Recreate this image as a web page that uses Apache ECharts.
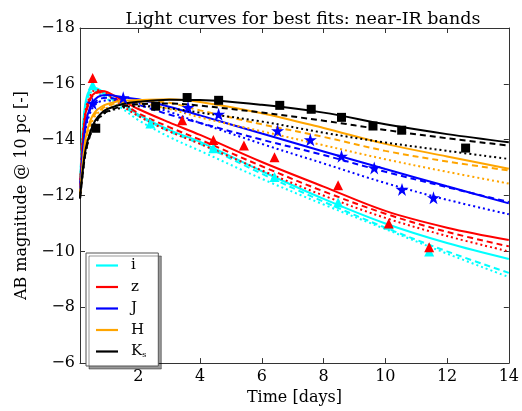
<!DOCTYPE html>
<html><head><meta charset="utf-8">
<script src="https://cdn.jsdelivr.net/npm/echarts@6/dist/echarts.min.js"></script>
<style>html,body{margin:0;padding:0;background:#fff}#c{width:522px;height:411px}</style>
</head><body><div id="c"></div>
<script>
// Model time grid (days)
const T = [0.11, 0.2, 0.3, 0.45, 0.6, 0.8, 1.0, 1.5, 2, 3, 4, 6, 8, 10, 12, 14];
// Fitted model curves (AB magnitude)
const iSolid  = [-12.3, -14.4, -15.4, -15.82, -15.85, -15.75, -15.6, -15.27, -14.9, -14.35, -13.92, -12.87, -11.88, -11.0, -10.3, -9.73];
const iDashed = [-12.3, -14.3, -15.3, -15.75, -15.8, -15.7, -15.55, -15.2, -14.85, -14.3, -13.85, -12.78, -11.78, -10.85, -10.0, -9.23];
const iDotted = [-12.3, -14.2, -15.2, -15.68, -15.72, -15.6, -15.45, -15.1, -14.7, -14.1, -13.6, -12.6, -11.68, -10.8, -9.92, -9.08];
const zSolid  = [-12.2, -14.0, -15.0, -15.5, -15.68, -15.74, -15.7, -15.4, -15.1, -14.62, -14.17, -13.2, -12.32, -11.45, -10.85, -10.41];
const zDashed = [-12.2, -13.9, -14.9, -15.45, -15.65, -15.7, -15.62, -15.3, -14.95, -14.45, -14.0, -13.05, -12.15, -11.35, -10.7, -10.18];
const zDotted = [-12.2, -14.1, -15.1, -15.6, -15.78, -15.75, -15.6, -15.2, -14.85, -14.3, -13.85, -12.9, -12.0, -11.2, -10.55, -10.0];
const jSolid  = [-12.1, -13.6, -14.6, -15.2, -15.45, -15.58, -15.6, -15.52, -15.45, -15.18, -14.87, -14.22, -13.58, -12.95, -12.33, -11.72];
const jDashed = [-12.1, -13.5, -14.5, -15.1, -15.35, -15.48, -15.5, -15.4, -15.25, -14.9, -14.6, -14.0, -13.45, -12.85, -12.3, -11.77];
const jDotted = [-12.1, -13.4, -14.4, -15.0, -15.25, -15.38, -15.4, -15.35, -15.3, -15.0, -14.6, -13.85, -13.15, -12.45, -11.85, -11.33];
const hSolid  = [-12.0, -13.2, -14.1, -14.7, -15.0, -15.18, -15.28, -15.4, -15.42, -15.45, -15.35, -14.95, -14.42, -13.85, -13.4, -12.96];
const hDashed = [-12.0, -13.1, -14.0, -14.6, -14.92, -15.1, -15.22, -15.35, -15.38, -15.32, -15.05, -14.55, -14.1, -13.6, -13.22, -12.9];
const hDotted = [-12.0, -13.0, -13.9, -14.5, -14.85, -15.05, -15.15, -15.28, -15.3, -15.1, -14.8, -14.3, -13.8, -13.3, -12.85, -12.43];
const kSolid  = [-11.9, -12.9, -13.7, -14.3, -14.68, -14.95, -15.1, -15.28, -15.36, -15.43, -15.42, -15.25, -14.97, -14.55, -14.2, -13.91];
const kDashed = [-11.9, -12.8, -13.6, -14.2, -14.6, -14.88, -15.02, -15.2, -15.27, -15.3, -15.22, -14.97, -14.68, -14.35, -14.05, -13.79];
const kDotted = [-11.9, -12.8, -13.6, -14.2, -14.58, -14.85, -15.0, -15.15, -15.2, -15.12, -14.97, -14.65, -14.25, -13.9, -13.6, -13.31];

// Observed photometry
const iObsT = [0.52, 2.39, 4.43, 6.41, 8.47, 10.11, 11.42];
const iObsM = [-15.95, -14.58, -13.69, -12.66, -11.75, -10.95, -10.0];
const zObsT = [0.52, 3.42, 4.43, 5.42, 6.41, 8.47, 10.11, 11.42];
const zObsM = [-16.21, -14.70, -13.99, -13.79, -13.37, -12.37, -11.0, -10.15];
const jObsT = [0.52, 1.51, 3.61, 4.6, 6.51, 7.57, 8.58, 9.64, 10.54, 11.56];
const jObsM = [-15.3, -15.5, -15.15, -14.91, -14.32, -14.0, -13.41, -12.99, -12.22, -11.92];
const kObsT = [0.62, 2.56, 3.58, 4.6, 6.58, 7.6, 8.58, 9.6, 10.53, 12.6];
const kObsM = [-14.41, -15.2, -15.51, -15.41, -15.23, -15.09, -14.8, -14.49, -14.34, -13.7];

const bands = ['i', 'z', 'J', 'H', 'Ks'];
const xTicks = [2, 4, 6, 8, 10, 12, 14];

const colors = {i: '#00ffff', z: '#ff0000', J: '#0000ff', H: '#ffa500', Ks: '#000000'};
const curves = {i: [iSolid, iDashed, iDotted], z: [zSolid, zDashed, zDotted], J: [jSolid, jDashed, jDotted], H: [hSolid, hDashed, hDotted], Ks: [kSolid, kDashed, kDotted]};
const styles = ['solid', [6, 4], [2, 3]];
const STAR = 'path://M100,0 L122.45,69.1 L195.1,69.1 L136.3,111.8 L158.8,180.9 L100,138.2 L41.2,180.9 L63.7,111.8 L4.9,69.1 L77.55,69.1 Z';

const zip = (a, b) => a.map((v, k) => [v, b[k]]);
const F = 'DejaVu Serif';
const series = [];
bands.forEach(b => {
  curves[b].forEach((arr, k) => {
    series.push({
      name: b + '_' + k, type: 'line', data: zip(T, arr), showSymbol: false, symbol: 'none',
      smooth: 0.35, color: colors[b],
      lineStyle: {color: colors[b], width: 2, type: styles[k]}, z: 2, silent: true
    });
  });
});
const obs = [
  ['i', iObsT, iObsM, 'triangle', 10],
  ['z', zObsT, zObsM, 'triangle', 10],
  ['J', jObsT, jObsM, STAR, 13],
  ['Ks', kObsT, kObsM, 'rect', 9]
];
obs.forEach(o => {
  series.push({name: o[0] + '_obs', type: 'scatter', data: zip(o[1], o[2]), symbol: o[3], symbolSize: o[4],
    itemStyle: {color: colors[o[0]], opacity: 1}, z: 5, silent: true});
});
bands.forEach(b => {
  series.push({name: b, type: 'line', data: [], color: colors[b], lineStyle: {color: colors[b]}});
});

const minus = v => String(v).replace('-', '\u2212');
const chart = echarts.init(document.getElementById('c'), null, {renderer: 'canvas'});
chart.setOption({
  animation: false,
  backgroundColor: '#fff',
  title: {text: 'Light curves for best fits: near-IR bands', left: 298, top: 5, textAlign: 'center',
    textStyle: {fontFamily: F, fontSize: 17.5, fontWeight: 'normal', color: '#000'}},
  grid: {left: 80, right: 6, top: 28, bottom: 45, containLabel: false},
  legend: {
    data: bands, orient: 'vertical', left: 86, top: 253,
    icon: 'path://M0,0 L22,0 L22,2.2 L0,2.2 Z', itemWidth: 22, itemHeight: 14, itemGap: 6.5,
    padding: [5, 12, 7, 10], backgroundColor: '#fff', borderColor: '#555', borderWidth: 1,
    shadowColor: 'rgba(0,0,0,0.4)', shadowOffsetX: 3, shadowOffsetY: 3, shadowBlur: 0,
    formatter: n => n === 'Ks' ? '{k|K}{s|s}' : n,
    textStyle: {fontFamily: F, fontSize: 15, color: '#000', lineHeight: 14, padding: [0, 0, 0, 8],
      rich: {k: {fontFamily: F, fontSize: 15, lineHeight: 14}, s: {fontFamily: F, fontSize: 8, verticalAlign: 'bottom', lineHeight: 8}}}
  },
  xAxis: [{
    type: 'value', min: 0.11, max: 14, position: 'bottom',
    name: 'Time [days]', nameLocation: 'middle', nameGap: 24,
    nameTextStyle: {fontFamily: F, fontSize: 16, color: '#000'},
    axisLine: {show: true, onZero: false, lineStyle: {color: '#333', width: 1}},
    axisTick: {show: true, inside: true, length: 5, customValues: xTicks, lineStyle: {color: '#333'}},
    axisLabel: {show: true, customValues: xTicks, margin: 6, fontFamily: F, fontSize: 16, color: '#000', formatter: minus},
    splitLine: {show: false}
  }, {
    type: 'value', min: 0.11, max: 14, position: 'top',
    axisLine: {show: true, onZero: false, lineStyle: {color: '#333', width: 1}},
    axisTick: {show: true, inside: true, length: 5, customValues: xTicks, lineStyle: {color: '#333'}},
    axisLabel: {show: false}, splitLine: {show: false}
  }],
  yAxis: [{
    type: 'value', min: -18, max: -6, interval: 2, inverse: true, position: 'left',
    name: 'AB magnitude @ 10 pc [-]', nameLocation: 'middle', nameGap: 50,
    nameTextStyle: {fontFamily: F, fontSize: 16, color: '#000'},
    axisLine: {show: true, onZero: false, lineStyle: {color: '#333', width: 1}},
    axisTick: {show: true, inside: true, length: 5, lineStyle: {color: '#333'}},
    axisLabel: {show: true, margin: 5, fontFamily: F, fontSize: 16, color: '#000', formatter: minus},
    splitLine: {show: false}
  }, {
    type: 'value', min: -18, max: -6, interval: 2, inverse: true, position: 'right',
    axisLine: {show: true, onZero: false, lineStyle: {color: '#333', width: 1}},
    axisTick: {show: true, inside: true, length: 5, lineStyle: {color: '#333'}},
    axisLabel: {show: false}, splitLine: {show: false}
  }],
  series: series
});
</script></body></html>
